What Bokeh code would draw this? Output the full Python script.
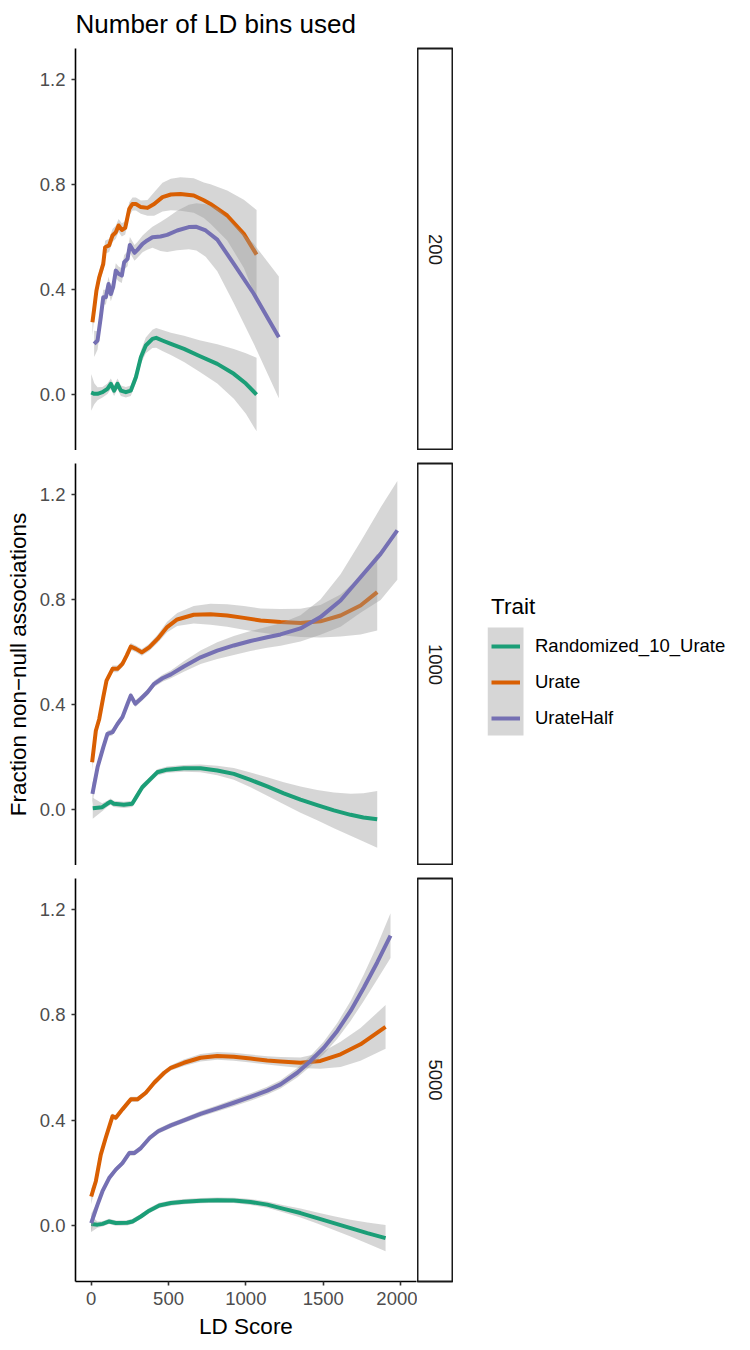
import numpy as np
from bokeh.plotting import figure
from bokeh.models import (Range1d, FixedTicker, NumeralTickFormatter,
                          ColumnDataSource, Legend, LegendItem)
from bokeh.layouts import row, column
from bokeh.embed import file_html
from bokeh.resources import INLINE
from bokeh.core.properties import value

FONT = "Liberation Sans"

traits = ["Randomized_10_Urate", "Urate", "UrateHalf"]
trait_colors = ["#1B9E77", "#D95F02", "#7570B3"]
bins = ["200", "1000", "5000"]
y_ticks = [0.0, 0.4, 0.8, 1.2]
x_ticks = [0, 500, 1000, 1500, 2000]

# ---------------- panel: 200 bins ----------------
b200_rand_x = [0, 20, 41, 73, 105, 127, 148, 170, 192, 224, 256, 289, 321, 353, 396, 420, 460, 515, 600, 700, 815, 922, 1000, 1069]
b200_rand_y = [0.008, 0.003, 0.003, 0.009, 0.022, 0.041, 0.015, 0.041, 0.015, 0.009, 0.015, 0.066, 0.142, 0.187, 0.212, 0.216, 0.206, 0.193, 0.174, 0.147, 0.117, 0.079, 0.042, 0.0]
b200_rand_se = [0.07, 0.04, 0.025, 0.02, 0.02, 0.02, 0.02, 0.02, 0.02, 0.02, 0.02, 0.022, 0.025, 0.03, 0.035, 0.038, 0.04, 0.042, 0.05, 0.06, 0.075, 0.095, 0.115, 0.14]

b200_urate_x = [8, 20, 34, 52, 78, 90, 116, 138, 159, 177, 198, 220, 246, 267, 289, 321, 364, 407, 461, 515, 577, 663, 728, 771, 879, 987, 1069]
b200_urate_y = [0.275, 0.33, 0.396, 0.447, 0.498, 0.561, 0.568, 0.606, 0.618, 0.644, 0.627, 0.635, 0.707, 0.726, 0.726, 0.714, 0.711, 0.726, 0.752, 0.762, 0.764, 0.758, 0.74, 0.726, 0.682, 0.612, 0.533]
b200_urate_se = [0.05, 0.035, 0.03, 0.025, 0.025, 0.025, 0.025, 0.025, 0.025, 0.025, 0.025, 0.025, 0.025, 0.025, 0.025, 0.025, 0.03, 0.045, 0.055, 0.06, 0.064, 0.066, 0.068, 0.075, 0.095, 0.13, 0.17]

b200_half_x = [19, 41, 62, 78, 95, 112, 127, 142, 159, 177, 198, 213, 235, 250, 280, 299, 332, 362, 396, 448, 491, 556, 631, 680, 740, 815, 922, 1051, 1213]
b200_half_y = [0.193, 0.206, 0.295, 0.371, 0.371, 0.421, 0.383, 0.409, 0.472, 0.46, 0.453, 0.504, 0.517, 0.57, 0.54, 0.551, 0.574, 0.587, 0.599, 0.602, 0.608, 0.625, 0.638, 0.639, 0.625, 0.59, 0.498, 0.384, 0.218]
b200_half_se = [0.05, 0.035, 0.03, 0.028, 0.028, 0.028, 0.028, 0.028, 0.028, 0.028, 0.028, 0.028, 0.028, 0.03, 0.03, 0.03, 0.032, 0.035, 0.04, 0.055, 0.065, 0.075, 0.085, 0.09, 0.1, 0.12, 0.15, 0.19, 0.232]

# ---------------- panel: 1000 bins ----------------
b1000_rand_x = [10, 71, 103, 125, 146, 211, 265, 297, 330, 373, 427, 491, 599, 707, 815, 922, 1030, 1138, 1245, 1353, 1461, 1569, 1677, 1760, 1849]
b1000_rand_y = [0.005, 0.009, 0.022, 0.03, 0.022, 0.018, 0.022, 0.053, 0.085, 0.11, 0.142, 0.152, 0.157, 0.157, 0.149, 0.136, 0.113, 0.088, 0.062, 0.038, 0.017, -0.003, -0.02, -0.03, -0.037]
b1000_rand_se = [0.04, 0.015, 0.012, 0.012, 0.012, 0.012, 0.012, 0.012, 0.012, 0.012, 0.012, 0.012, 0.013, 0.015, 0.018, 0.022, 0.028, 0.035, 0.042, 0.05, 0.058, 0.068, 0.08, 0.092, 0.108]

b1000_urate_x = [6, 30, 52, 78, 99, 138, 170, 202, 230, 256, 289, 327, 375, 429, 491, 556, 663, 771, 879, 987, 1095, 1224, 1353, 1482, 1612, 1741, 1849]
b1000_urate_y = [0.18, 0.30, 0.345, 0.428, 0.491, 0.536, 0.536, 0.555, 0.587, 0.621, 0.612, 0.599, 0.618, 0.65, 0.695, 0.724, 0.742, 0.744, 0.739, 0.73, 0.72, 0.714, 0.711, 0.717, 0.739, 0.777, 0.828]
b1000_urate_se = [0.03, 0.015, 0.013, 0.013, 0.013, 0.013, 0.013, 0.013, 0.013, 0.013, 0.013, 0.013, 0.014, 0.016, 0.02, 0.025, 0.033, 0.04, 0.043, 0.045, 0.046, 0.05, 0.054, 0.062, 0.08, 0.11, 0.146]

b1000_half_x = [8, 41, 78, 105, 138, 170, 202, 235, 256, 285, 321, 364, 407, 461, 515, 599, 707, 815, 922, 1030, 1138, 1224, 1353, 1482, 1612, 1741, 1871, 1979]
b1000_half_y = [0.06, 0.161, 0.237, 0.288, 0.295, 0.326, 0.352, 0.403, 0.434, 0.403, 0.422, 0.447, 0.479, 0.5, 0.515, 0.545, 0.58, 0.605, 0.625, 0.642, 0.656, 0.667, 0.69, 0.733, 0.796, 0.885, 0.974, 1.063]
b1000_half_se = [0.04, 0.015, 0.012, 0.012, 0.012, 0.012, 0.012, 0.012, 0.012, 0.012, 0.012, 0.012, 0.012, 0.013, 0.015, 0.02, 0.026, 0.032, 0.036, 0.038, 0.04, 0.043, 0.05, 0.067, 0.1, 0.135, 0.176, 0.188]

# ---------------- panel: 5000 bins ----------------
b5000_rand_x = [0, 41, 73, 116, 159, 232, 267, 321, 375, 440, 515, 600, 707, 815, 922, 1030, 1138, 1245, 1353, 1461, 1569, 1677, 1785, 1903]
b5000_rand_y = [0.005, 0.003, 0.006, 0.015, 0.009, 0.01, 0.015, 0.034, 0.056, 0.076, 0.085, 0.09, 0.094, 0.096, 0.095, 0.089, 0.079, 0.063, 0.047, 0.028, 0.009, -0.01, -0.029, -0.048]
b5000_rand_se = [0.03, 0.012, 0.01, 0.01, 0.01, 0.01, 0.01, 0.01, 0.01, 0.01, 0.01, 0.01, 0.01, 0.01, 0.01, 0.011, 0.012, 0.014, 0.017, 0.021, 0.026, 0.032, 0.04, 0.05]

b5000_urate_x = [0, 30, 62, 94, 138, 159, 202, 256, 299, 353, 407, 472, 515, 599, 707, 815, 922, 1030, 1138, 1224, 1353, 1482, 1612, 1741, 1903]
b5000_urate_y = [0.11, 0.168, 0.269, 0.333, 0.415, 0.409, 0.441, 0.479, 0.479, 0.504, 0.542, 0.58, 0.599, 0.618, 0.637, 0.644, 0.641, 0.634, 0.627, 0.623, 0.618, 0.625, 0.65, 0.688, 0.754]
b5000_urate_se = [0.03, 0.012, 0.01, 0.01, 0.01, 0.01, 0.01, 0.01, 0.01, 0.01, 0.01, 0.01, 0.01, 0.012, 0.014, 0.015, 0.015, 0.015, 0.016, 0.017, 0.02, 0.03, 0.048, 0.062, 0.083]

b5000_half_x = [0, 41, 73, 116, 159, 202, 246, 278, 321, 379, 433, 515, 599, 707, 815, 922, 1030, 1138, 1224, 1332, 1418, 1504, 1591, 1677, 1763, 1849, 1935]
b5000_half_y = [0.009, 0.079, 0.13, 0.18, 0.212, 0.237, 0.275, 0.275, 0.294, 0.333, 0.358, 0.38, 0.399, 0.424, 0.445, 0.466, 0.488, 0.512, 0.536, 0.58, 0.625, 0.675, 0.739, 0.815, 0.904, 0.999, 1.101]
b5000_half_se = [0.035, 0.012, 0.01, 0.01, 0.01, 0.01, 0.01, 0.01, 0.01, 0.01, 0.01, 0.01, 0.01, 0.011, 0.012, 0.013, 0.014, 0.015, 0.016, 0.018, 0.02, 0.024, 0.03, 0.038, 0.05, 0.065, 0.085]

panel_series = {
    "200": [(b200_rand_x, b200_rand_y, b200_rand_se),
            (b200_urate_x, b200_urate_y, b200_urate_se),
            (b200_half_x, b200_half_y, b200_half_se)],
    "1000": [(b1000_rand_x, b1000_rand_y, b1000_rand_se),
             (b1000_urate_x, b1000_urate_y, b1000_urate_se),
             (b1000_half_x, b1000_half_y, b1000_half_se)],
    "5000": [(b5000_rand_x, b5000_rand_y, b5000_rand_se),
             (b5000_urate_x, b5000_urate_y, b5000_urate_se),
             (b5000_half_x, b5000_half_y, b5000_half_se)],
}

X_RANGE = (-101.5, 2103)
Y_RANGE = (-0.213, 1.318)
RIBBON = "#999999"
RIBBON_ALPHA = 0.4
LW = 4

PANEL_W = 417
# (height, min_border_top, min_border_bottom)
dims = [(450, 48, 0), (415, 13, 0), (485, 13, 69)]


def style_axis(ax):
    ax.axis_line_color = "#000000"
    ax.axis_line_width = 1.6
    ax.major_tick_line_color = "#333333"
    ax.major_tick_line_width = 1.6
    ax.major_tick_out = 4
    ax.major_tick_in = 0
    ax.minor_tick_line_color = None
    ax.major_label_text_font = FONT
    ax.major_label_text_font_size = "18.5px"
    ax.major_label_text_color = "#4D4D4D"
    ax.major_label_standoff = 6
    ax.axis_label_text_font = FONT
    ax.axis_label_text_font_size = "22.5px"
    ax.axis_label_text_font_style = "normal"
    ax.axis_label_text_color = "#000000"


panels = []
strips = []
for i, b in enumerate(bins):
    h, top, bot = dims[i]
    last = (i == len(bins) - 1)
    p = figure(width=PANEL_W, height=h,
               x_range=Range1d(*X_RANGE), y_range=Range1d(*Y_RANGE),
               output_backend="svg", toolbar_location=None, tools="",
               min_border_left=75, min_border_right=1,
               min_border_top=top, min_border_bottom=bot,
               x_axis_location="below" if last else None)
    p.grid.visible = False
    p.outline_line_color = None
    p.background_fill_color = "white"
    p.border_fill_color = "white"

    for (xs, ys, se), col in zip(panel_series[b], trait_colors):
        xs = np.array(xs, dtype=float)
        ys = np.array(ys, dtype=float)
        se = np.array(se, dtype=float)
        src = ColumnDataSource(dict(x=xs, y=ys, lo=ys - se, hi=ys + se))
        p.varea(x="x", y1="lo", y2="hi", source=src,
                fill_color=RIBBON, fill_alpha=RIBBON_ALPHA)
        p.line(x="x", y="y", source=src, line_color=col, line_width=LW,
               line_join="round")

    yax = p.yaxis[0]
    yax.ticker = FixedTicker(ticks=y_ticks)
    yax.formatter = NumeralTickFormatter(format="0.0")
    style_axis(yax)
    if i == 1:
        yax.axis_label = "Fraction non\u2212null associations"
        yax.axis_label_standoff = 6
    if last:
        xax = p.xaxis[0]
        xax.ticker = FixedTicker(ticks=x_ticks)
        style_axis(xax)
        xax.axis_label = "LD Score"
        xax.axis_label_standoff = 6
    if i == 0:
        p.title.text = "Number of LD bins used"
        p.title.text_font = FONT
        p.title.text_font_size = "26px"
        p.title.text_font_style = "normal"
        p.title.text_color = "#000000"
        p.title.align = "left"
        p.title.vertical_align = "top"
        p.title.standoff = 16
    panels.append(p)

    s = figure(width=36, height=h, x_range=Range1d(0, 1), y_range=Range1d(0, 1),
               output_backend="svg", toolbar_location=None, tools="",
               min_border_left=0, min_border_right=0,
               min_border_top=top, min_border_bottom=bot,
               x_axis_location=None, y_axis_location=None)
    s.grid.visible = False
    s.outline_line_color = "#1A1A1A"
    s.outline_line_width = 2
    s.background_fill_color = "white"
    s.text(x=[0.5], y=[0.5], text=[b], angle=-np.pi / 2,
           text_align="center", text_baseline="middle",
           text_font=value(FONT), text_font_size="18.5px", text_color="#1A1A1A")
    strips.append(s)

# ---------------- legend ----------------
LEG_W, LEG_TOP, LEG_LEFT = 297, 590, 34
KEY = 36            # legend key size (px)
TITLE_BLOCK = 37    # distance from frame top to first key (px)
lf = figure(width=LEG_W, height=1350,
            x_range=Range1d(0, LEG_W - LEG_LEFT), y_range=Range1d(1350 - LEG_TOP, 0),
            output_backend="svg", toolbar_location=None, tools="",
            min_border_left=LEG_LEFT, min_border_top=LEG_TOP, min_border_right=0,
            min_border_bottom=0, x_axis_location=None, y_axis_location=None)
lf.grid.visible = False
lf.outline_line_color = None
# grey ribbon background behind the legend keys
lf.quad(left=[0], right=[KEY], top=[TITLE_BLOCK],
        bottom=[TITLE_BLOCK + KEY * len(traits)],
        fill_color=RIBBON, fill_alpha=RIBBON_ALPHA, line_color=None)
items = []
for t, col in zip(traits, trait_colors):
    nan = np.array([np.nan])
    src = ColumnDataSource(dict(x=nan, y=nan))
    r2 = lf.line(x="x", y="y", source=src, line_color=col, line_width=LW)
    items.append(LegendItem(label=t, renderers=[r2]))
legend = Legend(items=items, location="top_left", margin=4, padding=0,
                spacing=0, glyph_width=29, glyph_height=KEY, label_height=KEY,
                label_standoff=15, border_line_color=None,
                background_fill_alpha=0, title="Trait",
                title_text_font=FONT, title_text_font_size="22.5px",
                title_text_font_style="normal", title_text_color="#000000",
                title_standoff=8,
                label_text_font=FONT, label_text_font_size="18.5px",
                label_text_color="#000000")
lf.add_layout(legend)

layout = row(column(*panels, spacing=0), column(*strips, spacing=0), lf, spacing=0)

open("out.html", "w").write(file_html(layout, INLINE))
